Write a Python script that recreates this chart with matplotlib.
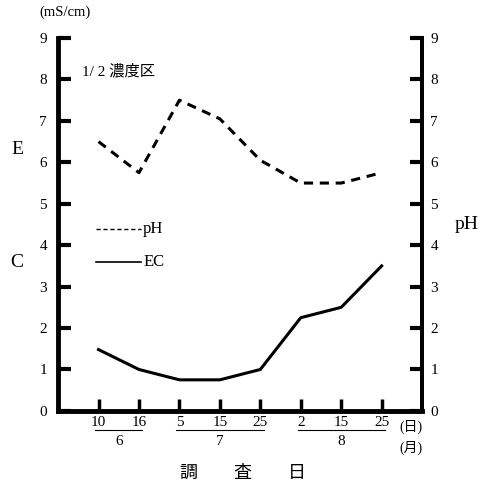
import matplotlib
matplotlib.use('Agg')
import matplotlib.pyplot as plt

plt.rcParams['font.family'] = ['Liberation Serif', 'Noto Sans CJK JP', 'DejaVu Sans']

days = ['10', '16', '5', '15', '25', '2', '15', '25']
months = ['6', '7', '8']
month_span = [(1, 2), (3, 5), (6, 8)]
ph = [6.5, 5.75, 7.5, 7.05, 6.05, 5.5, 5.5, 5.75]
ec = [1.48, 1.0, 0.75, 0.75, 1.0, 2.25, 2.5, 3.5]

x = list(range(1, len(days) + 1))

fig = plt.figure(figsize=(4.88, 4.88), dpi=100)
ax = fig.add_axes([0.119, 0.158, 0.746, 0.764])

ax.plot(x, ph, color='black', lw=2.2, ls=(0, (3, 2.2)))
ax.plot(x, ec, color='black', lw=2.2)

ax.set_xlim(0, 9)
ax.set_ylim(0, 9)
ax.spines['top'].set_visible(False)
for s in ['left', 'bottom']:
    ax.spines[s].set_linewidth(3.5)
ax.spines['right'].set_linewidth(2.8)

ax.set_yticks(range(0, 10))
ax.tick_params(axis='y', direction='in', length=9, width=3, labelsize=11, pad=8)
ax.set_xticks(x)
ax.set_xticklabels(days)
ax.tick_params(axis='x', direction='in', length=9, width=2.5, labelsize=11, pad=3.5)

ax2 = ax.twinx()
ax2.set_ylim(0, 9)
ax2.set_yticks(range(0, 10))
ax2.tick_params(axis='y', direction='in', length=9, width=3, labelsize=11, pad=6)
for s in ['top', 'left', 'bottom']:
    ax2.spines[s].set_visible(False)
ax2.spines['right'].set_linewidth(2.8)

# month lines under day labels
for (a, b), m in zip(month_span, months):
    ax.plot([a - 0.08, b + 0.08], [-0.45, -0.45], color='black', lw=0.8, clip_on=False)
    ax.text((a + b) / 2, -0.73, m, ha='center', va='center', fontsize=11)

ax.text(8.72, -0.38, '(日)', ha='center', va='center', fontsize=10)
ax.text(8.72, -0.9, '(月)', ha='center', va='center', fontsize=10)
ax.text(4.58, -1.5, '調　　査　　日', ha='center', va='center', fontsize=13)

# legend drawn by hand
ax.plot([0.95, 2.05], [4.4, 4.4], color='black', lw=1, ls=(0, (3, 2)))
ax.text(2.1, 4.4, 'pH', ha='left', va='center', fontsize=12)
ax.plot([0.95, 2.05], [3.6, 3.6], color='black', lw=1.2)
ax.text(2.1, 3.6, 'EC', ha='left', va='center', fontsize=12)

ax.text(0.6, 8.2, '1/ 2 濃度区', ha='left', va='center', fontsize=11)

fig.text(0.035, 0.693, 'E', ha='center', va='center', fontsize=14)
fig.text(0.035, 0.463, 'C', ha='center', va='center', fontsize=14)
fig.text(0.957, 0.54, 'pH', ha='center', va='center', fontsize=14)
fig.text(0.133, 0.975, '(mS/cm)', ha='center', va='center', fontsize=10.5)

fig.savefig('out.png', dpi=100)
